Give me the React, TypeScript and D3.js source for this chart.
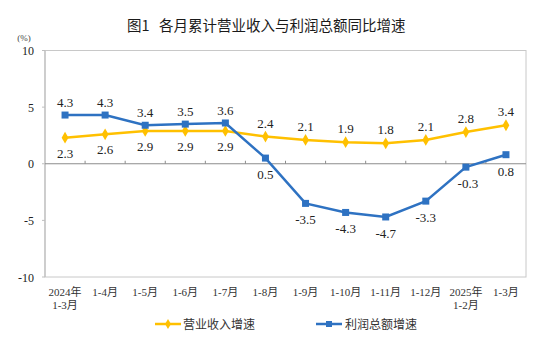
import React from "react";
import * as d3 from "d3";

const categories = [
  ["2024年", "1-3月"], ["1-4月"], ["1-5月"], ["1-6月"], ["1-7月"], ["1-8月"],
  ["1-9月"], ["1-10月"], ["1-11月"], ["1-12月"], ["2025年", "1-2月"], ["1-3月"],
];
const revenue = [2.3, 2.6, 2.9, 2.9, 2.9, 2.4, 2.1, 1.9, 1.8, 2.1, 2.8, 3.4];
const profit = [4.3, 4.3, 3.4, 3.5, 3.6, 0.5, -3.5, -4.3, -4.7, -3.3, -0.3, 0.8];
const yTicks = [10, 5, 0, -5, -10];
const titleA = "图1";
const titleB = "各月累计营业收入与利润总额同比增速";
const seriesNames = ["营业收入增速", "利润总额增速"];

const W = 550, H = 346;
const left = 45, right = 526, top = 50.5, bottom = 277;
const YELLOW = "#FFC000";
const BLUE = "#2E72C2";
const SERIF = "'Liberation Serif', 'Times New Roman', 'Noto Sans CJK SC', serif";
const CJK = "'Liberation Serif', 'Noto Sans CJK SC', serif";

export default function App() {
  const x = d3.scaleBand<number>().domain(d3.range(categories.length)).range([left, right]);
  const y = d3.scaleLinear().domain([-10, 10]).range([bottom, top]);
  const cx = (i: number) => (x(i) as number) + x.bandwidth() / 2;
  const line = d3.line<number>().x((_, i) => cx(i)).y((v) => y(v));
  const y0 = y(0);

  return (
    <svg width={W} height={H} style={{ position: "absolute", left: 0, top: 0, background: "#fff" }}>
      <text x={127} y={31} fontFamily="'Noto Sans CJK SC', sans-serif" fontSize={14.5} fill="#1a1a1a">{titleA}</text>
      <text x={159} y={31} fontFamily="'Noto Sans CJK SC', sans-serif" fontSize={14.5} fill="#1a1a1a">{titleB}</text>
      <text x={24} y={41} textAnchor="middle" fontFamily={CJK} fontSize={9} fill="#444">(%)</text>
      {/* frame */}
      <rect x={left} y={top} width={right - left} height={bottom - top} fill="none" stroke="#C8C8C8" strokeWidth={1} />
      <line x1={left} x2={left} y1={top} y2={bottom} stroke="#BFBFBF" strokeWidth={1.2} />
      {/* zero axis */}
      <line x1={left} x2={right} y1={y0} y2={y0} stroke="#8C8C8C" strokeWidth={1} />
      {d3.range(1, categories.length).map((i) => (
        <line key={i} x1={x(i)} x2={x(i)} y1={y0 - 3} y2={y0} stroke="#8C8C8C" strokeWidth={1} />
      ))}
      {yTicks.map((t) => (
        <g key={t}>
          <line x1={left - 3} x2={left} y1={y(t)} y2={y(t)} stroke="#BFBFBF" />
          <text x={34} y={y(t) + 4.5} textAnchor="end" fontFamily={SERIF} fontSize={12} fill="#222">{t}</text>
        </g>
      ))}
      {categories.map((c, i) => (
        <text key={i} x={cx(i)} y={296} textAnchor="middle" fontFamily={CJK} fontSize={11} fill="#333">
          {c.map((s, j) => (
            <tspan key={j} x={cx(i)} dy={j === 0 ? 0 : 13}>{s}</tspan>
          ))}
        </text>
      ))}
      {/* revenue */}
      <path d={line(revenue) || ""} fill="none" stroke={YELLOW} strokeWidth={2.5} />
      {revenue.map((v, i) => (
        <path key={i} d={d3.symbol(d3.symbolDiamond, 40)() || ""} transform={`translate(${cx(i)},${y(v)})`} fill={YELLOW} />
      ))}
      {/* profit */}
      <path d={line(profit) || ""} fill="none" stroke={BLUE} strokeWidth={2.5} />
      {profit.map((v, i) => (
        <rect key={i} x={cx(i) - 3.5} y={y(v) - 3.5} width={7} height={7} fill={BLUE} />
      ))}
      {revenue.map((v, i) => (
        <text key={"rl" + i} x={cx(i)} y={i < 5 ? y(v) + 20 : y(v) - 9} textAnchor="middle" fontFamily={SERIF} fontSize={13} fill="#222">{v.toFixed(1)}</text>
      ))}
      {profit.map((v, i) => (
        <text key={"pl" + i} x={cx(i) + (i === 10 ? 2 : 0)} y={i < 5 ? y(v) - 8 : y(v) + 21} textAnchor="middle" fontFamily={SERIF} fontSize={13} fill="#222">{v.toFixed(1)}</text>
      ))}
      {/* legend */}
      <line x1={155} x2={181} y1={324} y2={324} stroke={YELLOW} strokeWidth={2.5} />
      <path d={d3.symbol(d3.symbolDiamond, 30)() || ""} transform="translate(168,324)" fill={YELLOW} />
      <text x={183} y={328.5} fontFamily="'Noto Sans CJK SC', sans-serif" fontSize={12} fill="#333">{seriesNames[0]}</text>
      <line x1={316} x2={342} y1={324} y2={324} stroke={BLUE} strokeWidth={2.5} />
      <rect x={326} y={321} width={6} height={6} fill={BLUE} />
      <text x={345} y={328.5} fontFamily="'Noto Sans CJK SC', sans-serif" fontSize={12} fill="#333">{seriesNames[1]}</text>
    </svg>
  );
}
